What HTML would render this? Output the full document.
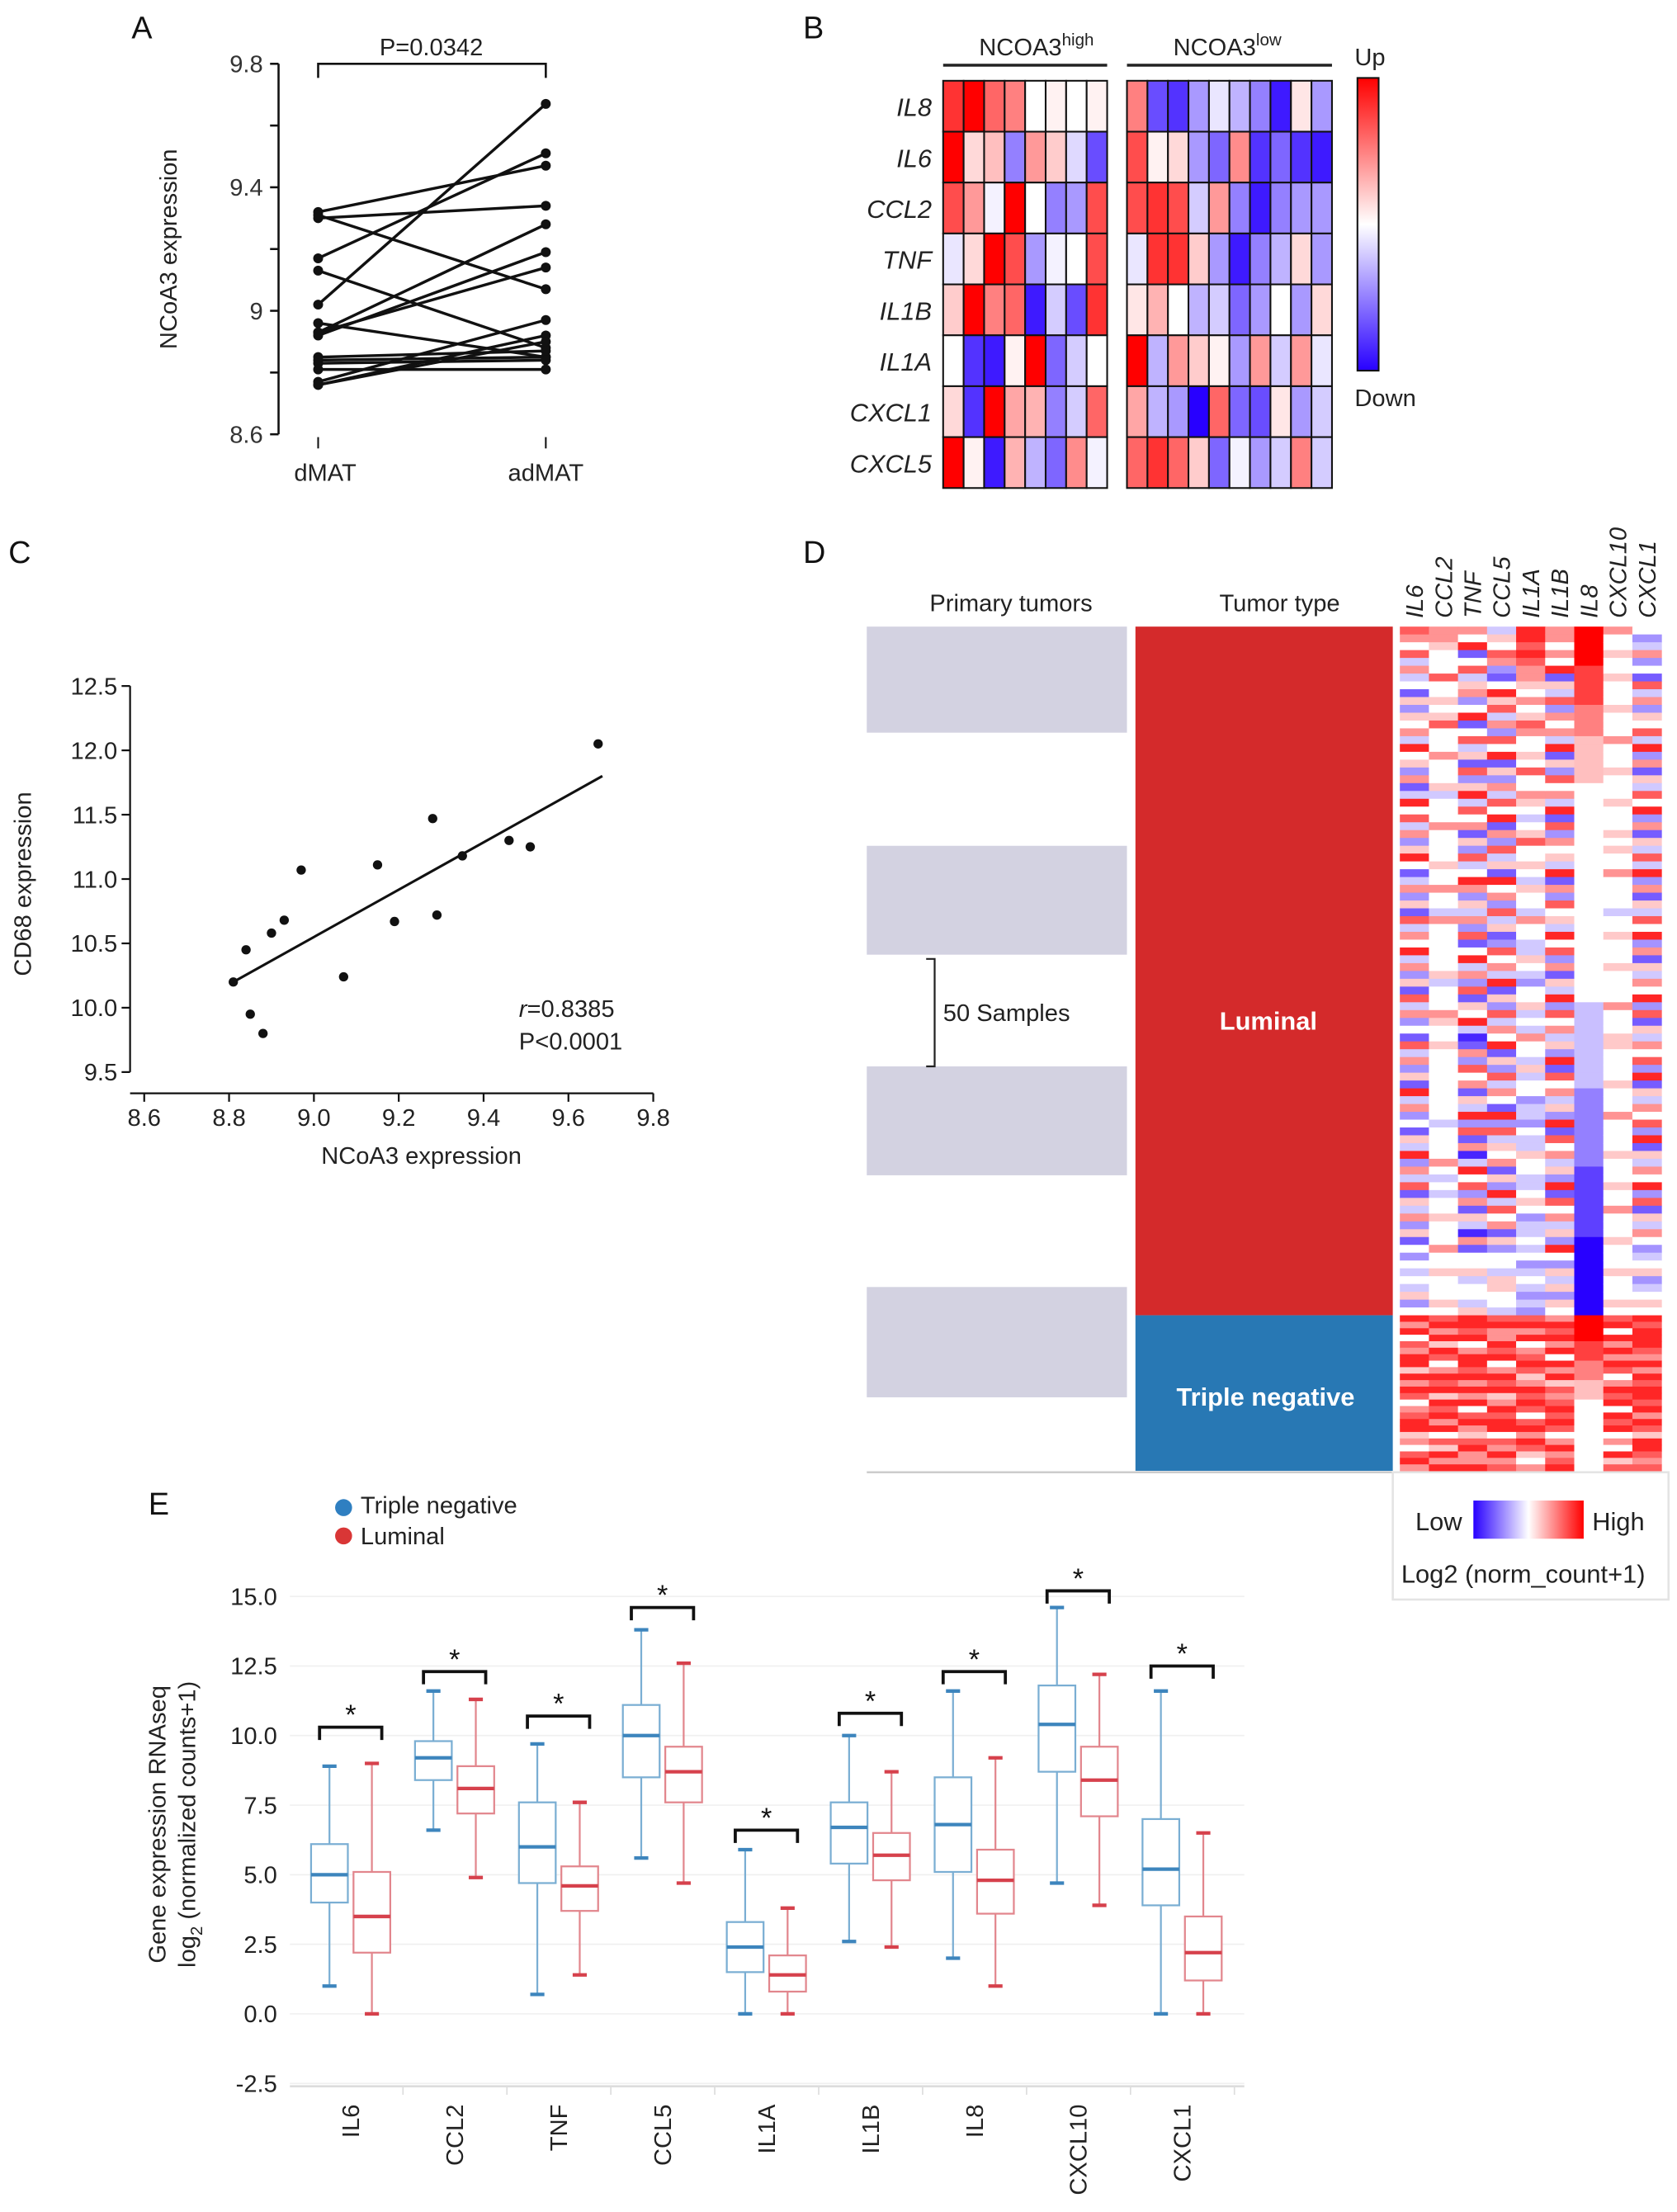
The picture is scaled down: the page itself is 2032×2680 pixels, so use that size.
<!DOCTYPE html>
<html><head><meta charset="utf-8"><style>
html,body{margin:0;padding:0;background:#fff;}
svg{display:block;font-family:"Liberation Sans",Arial,sans-serif;}
</style></head><body>
<svg id="fig" xmlns="http://www.w3.org/2000/svg" width="2032" height="2680" viewBox="0 0 1186 1564">
<rect width="1186" height="1564" fill="#fff"/>
<g font-size="22" fill="#111">
<text x="93" y="27">A</text>
<text x="568" y="27">B</text>
<text x="6" y="398">C</text>
<text x="568" y="398">D</text>
<text x="105" y="1071">E</text>
</g>
<g id="pa"></g>
<g id="pb"></g>
<g id="pc"></g>
<g id="pd"></g>
<g id="pe"></g>
</svg>
<script>
// ---- Panel A data
const aDmat=[9.32,9.30,9.31,9.17,9.13,9.02,8.96,8.93,8.92,8.93,8.85,8.84,8.83,8.81,8.77,8.76,8.76];
const aAdmat=[9.47,9.34,9.07,9.51,8.88,9.67,8.85,9.28,9.19,9.14,8.87,8.85,8.84,8.81,8.97,8.92,8.90];
const aTicks=["8.6","9","9.4","9.8"];
// ---- Panel B data
const bGenes=["IL8","IL6","CCL2","TNF","IL1B","IL1A","CXCL1","CXCL5"];
const bHigh=[[.8,1,.6,.5,0,.05,0,.05],[1,.15,.25,-.5,.4,.2,-.15,-.7],[.7,.4,-.05,1,0,-.5,-.4,.7],[-.1,.15,1,.7,-.4,-.05,0,.7],[.2,1,.5,.6,-.9,-.2,-.7,.8],[0,-.8,-.9,.05,1,-.6,-.2,0],[.15,-.8,1,.35,.3,-.5,-.2,.6],[1,.05,-.9,.3,-.3,-.6,.45,-.05]];
const bLow=[[.5,-.7,-.8,-.4,-.1,-.3,-.5,-.9,.1,-.4],[.7,.05,.15,-.4,-.6,.45,-.8,-.6,-.8,-.9],[.7,.8,.7,-.2,.4,-.5,-.9,-.5,-.4,-.4],[-.1,.8,.8,.2,-.4,-.9,-.5,-.3,.15,-.4],[.1,.3,0,-.3,-.2,-.6,-.4,0,-.4,.15],[1,-.3,.4,.2,.05,-.4,.4,-.2,.4,-.1],[.35,-.3,-.4,-1,.6,-.6,-.7,.1,-.4,-.2],[.6,.8,.6,.2,-.6,-.05,-.4,-.2,.5,-.2]];
// ---- Panel C data
const cX=[8.81,8.84,8.85,8.88,8.90,8.93,8.97,9.07,9.15,9.19,9.28,9.29,9.35,9.46,9.51,9.67];
const cY=[10.2,10.45,9.95,9.8,10.58,10.68,11.07,10.24,11.11,10.67,11.47,10.72,11.18,11.3,11.25,12.05];
const cFit=[[8.81,10.2],[9.68,11.8]];
const cXTicks=["8.6","8.8","9.0","9.2","9.4","9.6","9.8"];
const cYTicks=["9.5","10.0","10.5","11.0","11.5","12.0","12.5"];
// ---- Panel D data (codes 0=low..4=mid..8=high)
const dGenes=["IL6","CCL2","TNF","CCL5","IL1A","IL1B","IL8","CXCL10","CXCL1"];
const dLum=[
"7647363415254638452613847362584136251736483625173624173625183624153826371536251424343524",
"6654447445457444644453444644445446443644444453444654454444444443444464343445444644544454",
"6481473562481473517258374615273486253627148362715483016274615382716038472615306144534435",
"3547621485736274815263748162735184627351274638152736481527364182735461528374615244355443",
"8878766546457644547446543457445435443644335432445343644353442332433544334542334342343232",
"6646481537264638152746381726453816274538472615382746352817463528174635281746352842535254",
"8888877777666655555544444444444444444444444444443333333333322222222221111111110000000000",
"6445445444544464445444544454544644443445444544446444554444544464444544454464445444544454",
"4236241736254738261537482615373826153748261536482715364728153647281536482715364234523454"];
const dTN=[
"868476885868746788564786","786858746878587868475868","887846887868684786578668","786687846878568788476867","786846787568787478687546","687868486857678787468678",
"888877766655544444444444","784868687468784878464857","878887686878878687588767"];
const dBlocks=[[443,518],[598,675],[754,831],[910,988]];
// ---- Panel E data
const eCats=["IL6","CCL2","TNF","CCL5","IL1A","IL1B","IL8","CXCL10","CXCL1"];
const eTN=[[1.0,4.0,5.0,6.1,8.9],[6.6,8.4,9.2,9.8,11.6],[0.7,4.7,6.0,7.6,9.7],[5.6,8.5,10.0,11.1,13.8],[0,1.5,2.4,3.3,5.9],[2.6,5.4,6.7,7.6,10.0],[2.0,5.1,6.8,8.5,11.6],[4.7,8.7,10.4,11.8,14.6],[0,3.9,5.2,7.0,11.6]];
const eLum=[[0,2.2,3.5,5.1,9.0],[4.9,7.2,8.1,8.9,11.3],[1.4,3.7,4.6,5.3,7.6],[4.7,7.6,8.7,9.6,12.6],[0,0.8,1.4,2.1,3.8],[2.4,4.8,5.7,6.5,8.7],[1.0,3.6,4.8,5.9,9.2],[3.9,7.1,8.4,9.6,12.2],[0,1.2,2.2,3.5,6.5]];
const eSig=[10.3,12.3,10.7,14.6,6.6,10.8,12.3,15.2,12.5];
const eYTicks=["-2.5","0.0","2.5","5.0","7.5","10.0","12.5","15.0"];

const NS="http://www.w3.org/2000/svg";
function mk(parent,tag,attrs,txt){const e=document.createElementNS(NS,tag);for(const k in attrs)e.setAttribute(k,attrs[k]);if(txt!==undefined)e.textContent=txt;parent.appendChild(e);return e;}
function col(t){t=Math.max(-1,Math.min(1,t));if(t>=0){const v=Math.round(255*(1-t));return `rgb(255,${v},${v})`;}const a=-t;return `rgb(${Math.round(255-215*a)},${Math.round(255-255*a)},255)`;}

// ===== Panel A
(function(){const g=document.getElementById('pa');
const y=v=>307-(v-8.6)/1.2*262;const x1=225,x2=386;
mk(g,'line',{x1:197,y1:45,x2:197,y2:307,stroke:'#111','stroke-width':1.5});
for(let i=0;i<7;i++){const v=8.6+i*0.2;const l=mk(g,'line',{x1:191,x2:197,y1:y(v),y2:y(v),stroke:'#111','stroke-width':1.5});}
aTicks.forEach(t=>{const e=mk(g,'text',{x:186,y:y(+t)+6,'text-anchor':'end','font-size':17,fill:'#333'},t);});
const yl=mk(g,'text',{x:0,y:0,transform:'translate(125,176) rotate(-90)','text-anchor':'middle','font-size':17,fill:'#222'},'NCoA3 expression');
mk(g,'path',{d:`M${x1},55 V45 H${x2} V55`,fill:'none',stroke:'#111','stroke-width':1.5});
mk(g,'text',{x:305,y:39,'text-anchor':'middle','font-size':17,fill:'#222'},'P=0.0342');
[x1,x2].forEach(x=>mk(g,'line',{x1:x,x2:x,y1:309,y2:317,stroke:'#111','stroke-width':1.2}));
mk(g,'text',{x:x1+5,y:340,'text-anchor':'middle','font-size':17,fill:'#222'},'dMAT');
mk(g,'text',{x:x2,y:340,'text-anchor':'middle','font-size':17,fill:'#222'},'adMAT');
aDmat.forEach((v,i)=>{const l=mk(g,'line',{x1:x1,y1:y(v),x2:x2,y2:y(aAdmat[i]),stroke:'#111','stroke-width':2});
const c1=mk(g,'circle',{cx:x1,cy:y(v),r:3.5,fill:'#111'});
const c2=mk(g,'circle',{cx:x2,cy:y(aAdmat[i]),r:3.5,fill:'#111'});});
})();

// ===== Panel B
(function(){const g=document.getElementById('pb');const top=57,rh=36;
function block(data,x0,cw,name){data.forEach((row,r)=>row.forEach((v,c)=>{const e=mk(g,'rect',{x:x0+c*cw,y:top+r*rh,width:cw,height:rh,fill:col(v),stroke:'#111','stroke-width':1.2});}));}
block(bHigh,667,116/8,'b-cell-high');block(bLow,797,145/10,'b-cell-low');
bGenes.forEach((gn,i)=>{const e=mk(g,'text',{x:659,y:top+i*rh+25,'text-anchor':'end','font-size':18,'font-style':'italic',fill:'#222'},gn);});
mk(g,'line',{x1:667,x2:783,y1:46,y2:46,stroke:'#222','stroke-width':2});
mk(g,'line',{x1:797,x2:942,y1:46,y2:46,stroke:'#222','stroke-width':2});
const t1=mk(g,'text',{x:733,y:39,'text-anchor':'middle','font-size':17,fill:'#222'},'NCOA3');mk(t1,'tspan',{dy:-7,'font-size':12},'high');
const t2=mk(g,'text',{x:868,y:39,'text-anchor':'middle','font-size':17,fill:'#222'},'NCOA3');mk(t2,'tspan',{dy:-7,'font-size':12},'low');
const defs=mk(g,'defs',{});const lg=mk(defs,'linearGradient',{id:'bgrad',x1:0,y1:0,x2:0,y2:1});
mk(lg,'stop',{offset:'0',  'stop-color':col(1)});mk(lg,'stop',{offset:'0.5','stop-color':'#fff'});mk(lg,'stop',{offset:'1','stop-color':col(-1)});
const cb=mk(g,'rect',{x:960,y:55,width:15,height:207,fill:'url(#bgrad)',stroke:'#111','stroke-width':1.2});
mk(g,'text',{x:958,y:46,'font-size':17,fill:'#222'},'Up');
mk(g,'text',{x:958,y:287,'font-size':17,fill:'#222'},'Down');
})();

// ===== Panel C
(function(){const g=document.getElementById('pc');
const x=v=>102+(v-8.6)*300;const y=v=>758-(v-9.5)/3*273;
mk(g,'line',{x1:92,x2:92,y1:485,y2:758,stroke:'#111','stroke-width':1.3});
mk(g,'line',{x1:92,x2:462,y1:773,y2:773,stroke:'#111','stroke-width':1.3});
cYTicks.forEach(t=>{mk(g,'line',{x1:86,x2:92,y1:y(+t),y2:y(+t),stroke:'#111','stroke-width':1.3});const e=mk(g,'text',{x:83,y:y(+t)+6,'text-anchor':'end','font-size':17,fill:'#222'},t);});
cXTicks.forEach(t=>{const xx=x(+t);mk(g,'line',{x1:xx,x2:xx,y1:773,y2:779,stroke:'#111','stroke-width':1.3});const e=mk(g,'text',{x:xx,y:796,'text-anchor':'middle','font-size':17,fill:'#222'},t);});
const yl=mk(g,'text',{x:0,y:0,transform:'translate(22,625) rotate(-90)','text-anchor':'middle','font-size':17,fill:'#222'},'CD68 expression');
const xl=mk(g,'text',{x:298,y:823,'text-anchor':'middle','font-size':17,fill:'#222'},'NCoA3 expression');
const fl=mk(g,'line',{x1:x(cFit[0][0]),y1:y(cFit[0][1]),x2:x(cFit[1][0]),y2:y(cFit[1][1]),stroke:'#111','stroke-width':1.8});
cX.forEach((v,i)=>{const c=mk(g,'circle',{cx:x(v),cy:y(cY[i]),r:3.3,fill:'#111'});});
const r=mk(g,'text',{x:367,y:719,'font-size':17,fill:'#222'});mk(r,'tspan',{'font-style':'italic'},'r');mk(r,'tspan',{},'=0.8385');
mk(g,'text',{x:367,y:742,'font-size':17,fill:'#222'},'P<0.0001');
})();

// ===== Panel D
(function(){const g=document.getElementById('pd');
mk(g,'text',{x:715,y:432,'text-anchor':'middle','font-size':17,fill:'#222'},'Primary tumors');
mk(g,'text',{x:905,y:432,'text-anchor':'middle','font-size':17,fill:'#222'},'Tumor type');
dBlocks.forEach(b=>{const e=mk(g,'rect',{x:613,y:b[0],width:184,height:b[1]-b[0],fill:'#d3d2e1'});});
mk(g,'path',{d:'M655,678 H661 V754 H655',fill:'none',stroke:'#222','stroke-width':1.3});
mk(g,'text',{x:667,y:722,'font-size':17,fill:'#222'},'50 Samples');
const lr=mk(g,'rect',{x:803,y:443,width:182,height:487,fill:'#d42a2b'});
const tr=mk(g,'rect',{x:803,y:930,width:182,height:110,fill:'#2878b4'});
mk(g,'text',{x:897,y:728,'text-anchor':'middle','font-size':18,'font-weight':'bold',fill:'#fff'},'Luminal');
mk(g,'text',{x:895,y:994,'text-anchor':'middle','font-size':18,'font-weight':'bold',fill:'#fff'},'Triple negative');
const cw=185/9;
dGenes.forEach((gn,c)=>{const x0=990+c*cw;const sat=(gn==='IL8')?1:0.85;
const sL=dLum[c],hL=487/sL.length;for(let i=0;i<sL.length;i++){const e=mk(g,'rect',{x:x0,y:443+i*hL,width:cw+0.3,height:hL+0.3,fill:col(sat*(+sL[i]-4)/4)});}
const sT=dTN[c],hT=110/sT.length;for(let i=0;i<sT.length;i++){const e=mk(g,'rect',{x:x0,y:930+i*hT,width:cw+0.3,height:hT+0.3,fill:col(sat*(+sT[i]-4)/4)});}
const t=mk(g,'text',{x:0,y:0,transform:`translate(${x0+cw/2+6},437) rotate(-90)`,'font-size':17,'font-style':'italic',fill:'#222'},gn);});
mk(g,'line',{x1:613,x2:1180,y1:1041,y2:1041,stroke:'#ccc','stroke-width':1.5});
mk(g,'rect',{x:985,y:1041,width:195,height:90,fill:'none',stroke:'#e4e4e4','stroke-width':1.5});
const defs=mk(g,'defs',{});const lg=mk(defs,'linearGradient',{id:'dgrad',x1:0,y1:0,x2:1,y2:0});
mk(lg,'stop',{offset:'0','stop-color':col(-1)});mk(lg,'stop',{offset:'0.5','stop-color':'#fff'});mk(lg,'stop',{offset:'1','stop-color':col(1)});
const lb=mk(g,'rect',{x:1042,y:1061,width:78,height:27,fill:'url(#dgrad)'});
mk(g,'text',{x:1001,y:1082,'font-size':18,fill:'#222'},'Low');
mk(g,'text',{x:1126,y:1082,'font-size':18,fill:'#222'},'High');
mk(g,'text',{x:991,y:1119,'font-size':18,fill:'#222'},'Log2 (norm_count+1)');
})();

// ===== Panel E
(function(){const g=document.getElementById('pe');
const y=v=>1424-v/2.5*49.2;const cx=i=>248+i*73.5;const bw=26;
eYTicks.forEach(t=>{mk(g,'line',{x1:205,x2:880,y1:y(+t),y2:y(+t),stroke:'#f0f0f0','stroke-width':1});const e=mk(g,'text',{x:196,y:y(+t)+6,'text-anchor':'end','font-size':17,fill:'#222'},t);});
mk(g,'line',{x1:205,x2:880,y1:y(-2.5)+2,y2:y(-2.5)+2,stroke:'#ddd','stroke-width':1.5});
const t1=mk(g,'text',{x:0,y:0,transform:'translate(117,1290) rotate(-90)','text-anchor':'middle','font-size':17,fill:'#222'},'Gene expression RNAseq');
const t2=mk(g,'text',{x:0,y:0,transform:'translate(138,1290) rotate(-90)','text-anchor':'middle','font-size':17,fill:'#222'},'log');mk(t2,'tspan',{dy:5,'font-size':12},'2');mk(t2,'tspan',{dy:-5},' (normalized counts+1)');
mk(g,'circle',{cx:243,cy:1066,r:6,fill:'#2f7fc1'});mk(g,'text',{x:255,y:1070,'font-size':17,fill:'#222'},'Triple negative');
mk(g,'circle',{cx:243,cy:1086,r:6,fill:'#d93636'});mk(g,'text',{x:255,y:1092,'font-size':17,fill:'#222'},'Luminal');
function box(s,xc,line,med,name){const [mn,q1,md,q3,mx]=s;
const e=mk(g,'g',{});
mk(e,'line',{x1:xc,x2:xc,y1:y(mx),y2:y(q3),stroke:line,'stroke-width':1.3});
mk(e,'line',{x1:xc,x2:xc,y1:y(q1),y2:y(mn),stroke:line,'stroke-width':1.3});
mk(e,'line',{x1:xc-5,x2:xc+5,y1:y(mx),y2:y(mx),stroke:med,'stroke-width':2.5});
mk(e,'line',{x1:xc-5,x2:xc+5,y1:y(mn),y2:y(mn),stroke:med,'stroke-width':2.5});
mk(e,'rect',{x:xc-bw/2,y:y(q3),width:bw,height:y(q1)-y(q3),fill:'#fff',stroke:line,'stroke-width':1.3});
mk(e,'line',{x1:xc-bw/2,x2:xc+bw/2,y1:y(md),y2:y(md),stroke:med,'stroke-width':2.5});}
eCats.forEach((c,i)=>{const x=cx(i);
box(eTN[i],x-15,'#7aaed3','#3d85bd','e-box-tn-'+c.toLowerCase());
box(eLum[i],x+15,'#e2868d','#d6414c','e-box-luminal-'+c.toLowerCase());
const sy=y(eSig[i]);const b=mk(g,'path',{d:`M${x-22},${sy+9} V${sy} H${x+22} V${sy+9}`,fill:'none',stroke:'#111','stroke-width':2.2});
mk(g,'text',{x:x,y:sy-2,'text-anchor':'middle','font-size':20,fill:'#111'},'*');
mk(g,'line',{x1:x+37,x2:x+37,y1:y(-2.5)+2,y2:y(-2.5)+8,stroke:'#ddd','stroke-width':1});
const lt=mk(g,'text',{x:0,y:0,transform:`translate(${x+6},1488) rotate(-90)`,'text-anchor':'end','font-size':17,fill:'#222'},c);});
})();
</script>
</body></html>
